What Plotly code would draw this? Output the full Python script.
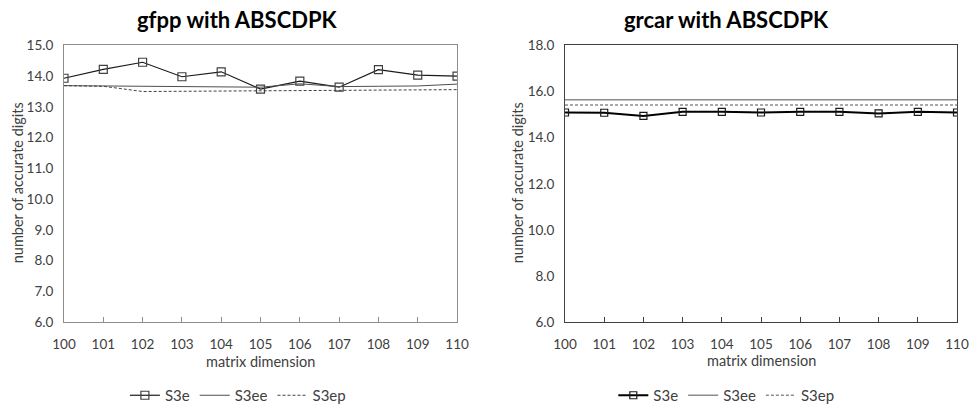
import plotly.graph_objects as go

dims = [100, 101, 102, 103, 104, 105, 106, 107, 108, 109, 110]

gfpp_s3e = [13.93, 14.22, 14.45, 13.98, 14.14, 13.58, 13.84, 13.64, 14.21, 14.03, 14.00]
gfpp_s3ee = [13.69, 13.68, 13.68, 13.67, 13.67, 13.64, 13.75, 13.66, 13.67, 13.68, 13.74]
gfpp_s3ep = [13.69, 13.67, 13.50, 13.51, 13.51, 13.51, 13.52, 13.53, 13.54, 13.55, 13.56]

grcar_s3e = [15.09, 15.08, 14.94, 15.12, 15.12, 15.09, 15.12, 15.12, 15.05, 15.12, 15.09]
grcar_s3ee = [15.64] * 11
grcar_s3ep = [15.41] * 11

left_yticks = [6.0, 7.0, 8.0, 9.0, 10.0, 11.0, 12.0, 13.0, 14.0, 15.0]
right_yticks = [6.0, 8.0, 10.0, 12.0, 14.0, 16.0, 18.0]

FONT = "Lato"
TXT = "#404040"

fig = go.Figure()

# left chart
fig.add_trace(go.Scatter(x=dims, y=gfpp_s3e, name="S3e", mode="lines+markers",
                         line=dict(color="#1a1a1a", width=1.2),
                         marker=dict(symbol="square-open", size=8, color="#404040", line=dict(width=1.2)),
                         xaxis="x", yaxis="y", legend="legend"))
fig.add_trace(go.Scatter(x=dims, y=gfpp_s3ee, name="S3ee", mode="lines",
                         line=dict(color="#4d4d4d", width=1),
                         xaxis="x", yaxis="y", legend="legend"))
fig.add_trace(go.Scatter(x=dims, y=gfpp_s3ep, name="S3ep", mode="lines",
                         line=dict(color="#404040", width=1, dash="3px,2px"),
                         xaxis="x", yaxis="y", legend="legend"))

# right chart
fig.add_trace(go.Scatter(x=dims, y=grcar_s3e, name="S3e", mode="lines+markers",
                         line=dict(color="#000000", width=2),
                         marker=dict(symbol="square-open", size=7, color="#1a1a1a", line=dict(width=1.2)),
                         xaxis="x2", yaxis="y2", legend="legend2"))
fig.add_trace(go.Scatter(x=dims, y=grcar_s3ee, name="S3ee", mode="lines",
                         line=dict(color="#8c8c8c", width=1.5),
                         xaxis="x2", yaxis="y2", legend="legend2"))
fig.add_trace(go.Scatter(x=dims, y=grcar_s3ep, name="S3ep", mode="lines",
                         line=dict(color="#8c8c8c", width=1.5, dash="3px,2px"),
                         xaxis="x2", yaxis="y2", legend="legend2"))

ydom = [0.2063, 0.8883]

def xaxis(domain, color, anchor):
    return dict(domain=domain, range=[100, 110], tickmode="array", tickvals=dims,
                ticktext=[str(d) for d in dims], showline=True, linecolor=color, linewidth=1,
                mirror=True, ticks="inside", ticklen=5, tickcolor=color, showgrid=False,
                zeroline=False, tickfont=dict(family=FONT, size=13.5, color=TXT), anchor=anchor,
                automargin=False, ticklabelstandoff=10)

def yaxis(rng, ticks, color, anchor):
    return dict(domain=ydom, range=rng, tickmode="array", tickvals=ticks,
                ticktext=[f"{t:.1f}" for t in ticks], showline=True, linecolor=color, linewidth=1,
                mirror=True, ticks="", showgrid=False, zeroline=False, anchor=anchor,
                automargin=False, ticklabelstandoff=7,
                tickfont=dict(family=FONT, size=13.5, color=TXT))

def txt(text, x, y, size, angle=0, color=TXT):
    return dict(text=text, x=x / 971, y=1 - y / 412, xref="paper", yref="paper",
                xanchor="center", yanchor="middle", showarrow=False, textangle=angle,
                font=dict(family=FONT, size=size, color=color))

fig.update_layout(
    width=971, height=412, margin=dict(l=0, r=0, t=0, b=0),
    paper_bgcolor="white", plot_bgcolor="white",
    xaxis=xaxis([0.0659, 0.4707], "#8c8c8c", "y"),
    yaxis=yaxis([6, 15], left_yticks, "#8c8c8c", "x"),
    xaxis2=xaxis([0.5819, 0.9856], "#404040", "y2"),
    yaxis2=yaxis([6, 18], right_yticks, "#404040", "x2"),
    legend=dict(orientation="h", x=0.245, xanchor="center", y=0.025, yanchor="middle",
                font=dict(family=FONT, size=15, color=TXT), itemwidth=30, bgcolor="rgba(0,0,0,0)"),
    legend2=dict(orientation="h", x=0.748, xanchor="center", y=0.025, yanchor="middle",
                 font=dict(family=FONT, size=15, color=TXT), itemwidth=30, bgcolor="rgba(0,0,0,0)"),
    annotations=[
        txt("<b>gfpp with ABSCDPK</b>", 237, 20, 22, color="#000000"),
        txt("<b>grcar with ABSCDPK</b>", 726, 20, 22, color="#000000"),
        txt("matrix dimension", 260, 367, 14.5),
        txt("matrix dimension", 761, 366, 14.5),
        txt("number of accurate digits", 17, 186, 14.5, angle=-90),
        txt("number of accurate digits", 517, 186, 14.5, angle=-90),
    ],
    showlegend=True,
)

fig.write_html("out.html")
